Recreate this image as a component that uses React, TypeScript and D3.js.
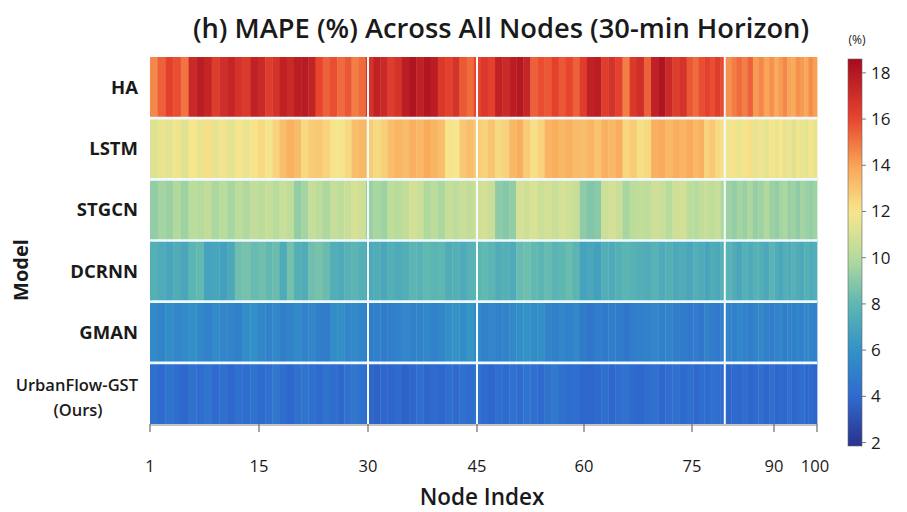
import React from "react";
import * as d3 from "d3";

const models = ["HA", "LSTM", "STGCN", "DCRNN", "GMAN", "UrbanFlow-GST"];

const haValues = [14.6,15.4,16.2,15.8,15.0,17.2,17.8,17.4,16.4,17.0,17.4,16.8,16.5,17.6,17.2,16.4,16.8,17.6,17.2,17.8,17.9,17.5,16.0,15.4,15.8,15.2,15.6,14.8,15.2,16.8,17.6,17.2,16.4,16.8,17.8,18.2,17.6,18.1,17.8,16.6,16.2,16.8,15.6,15.2,16.0,16.6,16.2,17.6,17.2,17.8,18.0,17.4,15.4,15.8,15.6,16.2,15.6,16.0,15.4,16.4,17.6,17.8,16.4,16.8,16.2,14.8,16.6,17.0,15.4,17.6,18.2,17.2,16.4,16.8,15.6,15.2,15.8,16.2,15.8,16.4,15.9,14.4,14.8,15.2,14.8,15.4,14.2,14.6,14.0,14.4,13.8,14.2,14.6,14.0,13.8,14.4,14.2,13.9,14.5,14.1];
const lstmValues = [11.2,11.6,11.4,11.8,11.3,12.0,11.6,12.2,11.5,11.8,11.4,11.9,11.6,12.1,12.4,11.9,12.6,13.2,13.6,13.3,12.4,12.8,12.9,12.6,12.1,11.9,12.4,13.2,13.4,12.8,12.4,12.7,13.2,13.5,13.3,13.6,13.4,13.8,13.5,13.2,12.1,12.0,12.9,13.2,12.8,12.6,13.0,12.4,12.6,13.4,13.7,12.8,12.2,12.6,13.5,13.7,13.4,13.6,13.3,13.2,13.5,13.1,13.6,13.4,13.7,12.5,12.8,12.2,12.4,13.6,13.8,13.4,13.7,13.5,13.8,13.4,13.6,12.6,12.9,12.4,12.2,11.8,12.1,11.6,11.9,12.2,11.5,11.8,11.4,11.9,11.6,12.0,11.5,11.7,11.3,11.8,11.6,11.4,11.9,11.6];
const stgcnValues = [9.2,9.6,9.4,9.9,9.5,10.2,10.0,10.4,9.8,10.1,9.7,10.2,9.9,10.4,10.2,10.5,10.1,10.6,10.3,9.2,9.6,10.5,10.2,9.8,10.5,10.3,10.6,11.0,10.8,9.4,9.7,9.5,10.3,10.1,10.4,10.9,10.7,9.9,10.2,9.8,10.5,10.3,10.6,10.4,10.8,10.9,10.6,9.1,8.9,9.2,11.0,10.8,11.1,10.7,10.9,10.6,11.0,10.8,10.5,9.1,8.8,9.0,10.7,10.9,10.6,9.7,10.2,10.4,10.3,10.8,10.6,10.1,10.8,10.9,10.2,10.0,10.4,10.5,10.3,10.6,9.8,9.5,9.2,9.6,9.4,9.8,9.3,9.5,9.9,9.4,9.2,9.6,9.8,9.3,9.5,9.1,9.6,9.4,9.2,9.5];
const dcrnnValues = [7.6,7.3,7.0,7.4,7.1,7.9,8.1,6.9,7.0,6.8,7.2,8.4,8.6,8.2,8.4,8.1,8.3,7.3,8.5,7.6,7.4,8.4,8.6,8.3,7.5,7.3,7.7,7.9,7.6,7.2,7.4,7.1,7.6,7.3,7.5,7.9,7.7,8.1,7.9,8.0,7.4,7.6,7.3,7.7,7.9,8.1,7.9,7.4,7.6,7.3,8.2,8.4,8.1,7.9,8.2,7.8,8.0,8.3,7.9,6.9,7.1,6.8,7.5,7.3,7.6,7.9,7.7,7.5,7.4,7.7,7.3,7.6,7.2,7.4,7.1,7.5,7.3,7.0,7.4,7.2,7.6,7.8,7.4,7.1,7.6,7.3,7.7,7.5,7.2,7.8,7.4,7.1,7.5,7.3,7.7,7.4,7.2,7.6,7.3,7.5];
const gmanValues = [5.6,5.3,5.8,5.4,5.6,5.9,5.5,5.2,5.6,5.4,5.3,5.1,5.8,5.9,5.4,5.2,5.5,5.0,5.3,5.6,5.2,5.4,5.0,4.9,5.7,5.9,5.4,5.6,5.3,4.9,5.1,4.8,5.0,5.2,5.4,5.1,5.3,5.5,5.2,5.4,5.9,6.1,5.8,6.2,5.7,5.2,5.4,5.1,5.3,5.5,5.8,6.0,5.7,5.9,5.3,5.1,5.4,5.2,5.5,4.8,4.6,4.9,4.7,5.0,4.8,4.6,4.9,5.1,5.2,5.4,5.1,5.3,5.0,4.8,4.7,4.9,4.6,5.2,4.8,4.7,5.0,5.3,5.1,5.4,5.2,5.0,5.3,5.5,5.1,4.9,5.2,5.4,5.0,5.3,5.1,5.4,5.2,5.5,5.3,5.1];
const urbanValues = [4.2,4.0,4.4,4.1,3.9,4.3,4.1,4.5,4.0,4.2,3.9,4.3,4.1,4.4,4.0,4.2,4.6,4.1,3.9,4.3,4.5,4.2,4.0,4.4,4.1,3.9,4.3,4.6,4.2,3.8,3.7,3.9,3.8,4.0,3.7,3.9,4.1,3.8,4.0,3.9,4.2,4.0,4.3,4.1,4.4,4.0,3.9,4.2,4.0,4.3,4.1,4.5,4.2,4.0,4.4,4.7,4.3,4.1,4.2,3.9,3.8,4.0,4.2,3.9,4.1,4.3,4.0,3.9,4.1,4.2,3.9,4.1,4.3,4.0,4.2,3.9,4.1,4.0,4.3,4.1,4.0,3.8,4.0,3.9,4.1,3.8,4.0,4.2,3.9,4.1,3.8,4.0,3.9,4.2,3.8,4.0,4.1,3.9,4.0,3.8];

const seriesValues = [haValues, lstmValues, stgcnValues, dcrnnValues, gmanValues, urbanValues];

const xTickValues = [1, 15, 30, 45, 60, 75, 90, 100];
const separatorNodes = [30, 45, 81];
const colorbarTicks = [2, 4, 6, 8, 10, 12, 14, 16, 18];
const colorStops = [2, 4, 6, 8, 10, 12, 14, 16, 18.6];
const colorRange = ["#2b3591", "#2f6bcf", "#3392c6", "#5eb7b2", "#b5db9d", "#f7e68c", "#f9a456", "#e8452e", "#a50b1f"];

const FONT = "'Open Sans', 'Noto Sans', sans-serif";

export default function App() {
  const W = 907, H = 512;
  const top = 57, bottom = 424;
  const x = d3.scaleLinear().domain(xTickValues).range([150, 259, 368, 477, 584, 692, 774, 817]);
  const y = d3.scaleBand<string>().domain(models).range([top, bottom]).padding(0);
  const color = d3.scaleLinear<string>().domain(colorStops).range(colorRange).interpolate(d3.interpolateRgb).clamp(true);

  const cb = d3.scaleLinear().domain([1.85, 18.6]).range([446, 59]);
  const cbX = 848, cbW = 14;
  const gradStops = d3.range(0, 1.0001, 0.02).map((t) => {
    const v = 1.85 + t * (18.6 - 1.85);
    return { offset: `${(t * 100).toFixed(1)}%`, color: color(v) };
  });

  const edge = (i: number) => x(1 + i * 0.99);

  return (
    <svg width={W} height={H} style={{ position: "absolute", left: 0, top: 0, background: "#fff" }} fontFamily={FONT}>
      <defs>
        <linearGradient id="cbgrad" x1="0" y1="1" x2="0" y2="0">
          {gradStops.map((s, i) => (
            <stop key={i} offset={s.offset} stopColor={s.color} />
          ))}
        </linearGradient>
      </defs>
      <text x={501} y={38} textAnchor="middle" fontSize={27.3} fontWeight={600} fill="#1a1a1a">
        (h) MAPE (%) Across All Nodes (30-min Horizon)
      </text>

      {seriesValues.map((vals, r) => (
        <g key={models[r]}>
          {vals.map((v, i) => (
            <rect
              key={i}
              x={edge(i)}
              y={y(models[r])!}
              width={edge(i + 1) - edge(i) + 0.4}
              height={y.bandwidth()}
              fill={color(v)}
            />
          ))}
        </g>
      ))}

      {models.slice(1).map((m) => (
        <line key={m} x1={150} x2={817} y1={y(m)!} y2={y(m)!} stroke="#eefaff" strokeWidth={2.6} />
      ))}
      {separatorNodes.map((n) => (
        <line key={n} x1={x(n)} x2={x(n)} y1={top} y2={bottom} stroke="#f2fbff" strokeWidth={2} />
      ))}

      {models.map((m, r) => {
        const cy = y(m)! + y.bandwidth() / 2;
        if (r === models.length - 1) {
          return (
            <g key={m}>
              <text x={138} y={cy - 2} textAnchor="end" fontSize={16.5} fontWeight={600} fill="#1a1a1a">{m}</text>
              <text x={78} y={cy + 23} textAnchor="middle" fontSize={16.5} fontWeight={600} fill="#1a1a1a">(Ours)</text>
            </g>
          );
        }
        return (
          <text key={m} x={138} y={cy + 6.5} textAnchor="end" fontSize={18.5} fontWeight={700} fill="#1a1a1a">{m}</text>
        );
      })}
      <text transform="translate(28,270) rotate(-90)" textAnchor="middle" fontSize={20} fontWeight={700} fill="#1a1a1a">Model</text>

      <line x1={150} x2={817} y1={bottom + 1} y2={bottom + 1} stroke="#888" strokeWidth={1} />
      {xTickValues.map((t) => (
        <g key={t}>
          <line x1={x(t)} x2={x(t)} y1={bottom} y2={bottom + 8} stroke="#777" strokeWidth={1.3} />
          <text x={x(t) + (t === 100 ? -2 : 0)} y={472} textAnchor="middle" fontSize={16.5} fill="#1a1a1a">{t}</text>
        </g>
      ))}
      <text x={482} y={505} textAnchor="middle" fontSize={22.5} fontWeight={600} fill="#1a1a1a">Node Index</text>

      <rect x={cbX} y={cb(18.6)} width={cbW} height={cb(1.85) - cb(18.6)} fill="url(#cbgrad)" stroke="#666" strokeWidth={0.6} />
      {colorbarTicks.map((t) => (
        <g key={t}>
          <line x1={cbX + cbW} x2={cbX + cbW + 4} y1={cb(t)} y2={cb(t)} stroke="#777" strokeWidth={1} />
          <text x={cbX + cbW + 9} y={cb(t) + 6} fontSize={17} fill="#1a1a1a">{t}</text>
        </g>
      ))}
      <text x={857} y={44} textAnchor="middle" fontSize={12} fill="#1a1a1a">(%)</text>
    </svg>
  );
}
